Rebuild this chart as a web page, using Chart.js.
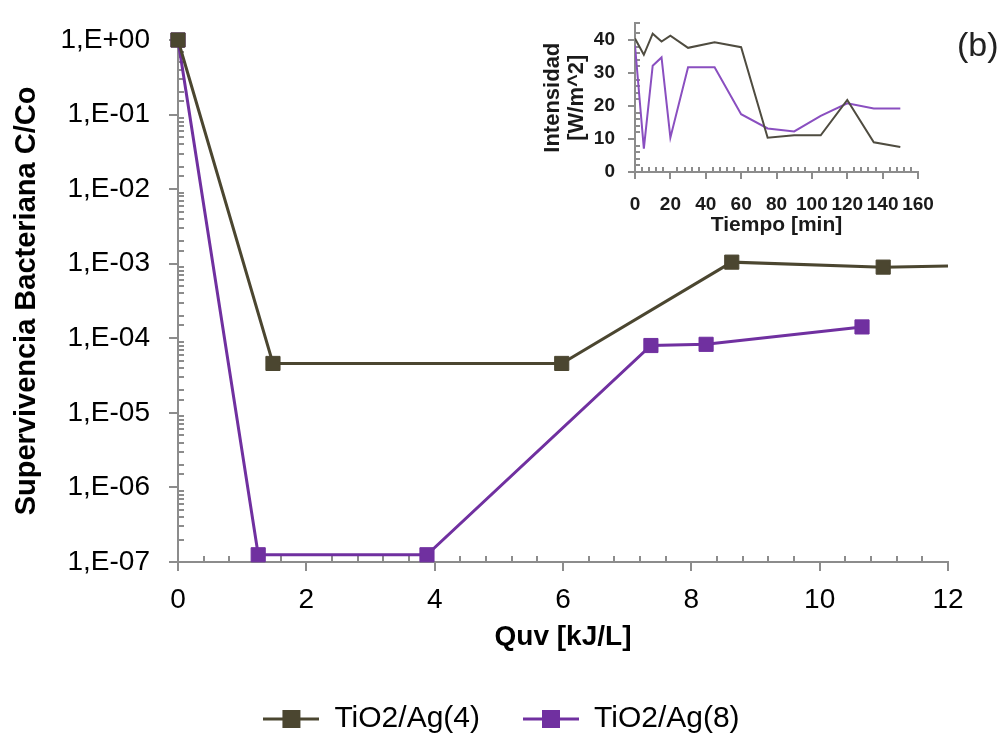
<!DOCTYPE html>
<html>
<head>
<meta charset="utf-8">
<script src="https://cdn.jsdelivr.net/npm/chart.js@4"></script>
<style>
  body { margin: 0; background: #fff; }
  #wrap { position: relative; width: 1003px; height: 736px; }
  #mainChart { position: absolute; left: 0; top: 0; }
  #insetChart { position: absolute; left: 530px; top: 0; pointer-events: none; }
  #tag { position: absolute; left: 957px; top: 25px; font: 34px 'Liberation Sans', Arial, sans-serif; color: #222; }
</style>
</head>
<body>
<div id="wrap">
  <canvas id="mainChart" width="1003" height="736"></canvas>
  <canvas id="insetChart" width="430" height="245"></canvas>
  <div id="tag">(b)</div>
</div>
<script>
// main chart: survival vs Quv (kJ/L), log scale
const quv4 = [0, 1.48, 5.98, 8.63, 10.99, 12]
const surv4 = [1, 4.6e-5, 4.6e-5, 1.05e-3, 9.0e-4, 9.3e-4]
const quv8 = [0, 1.25, 3.88, 7.37, 8.23, 10.66]
const surv8 = [1, 1.25e-7, 1.25e-7, 8.0e-5, 8.3e-5, 1.42e-4]

// inset: intensity (W/m^2) vs time (min)
const tiempo = [0, 5, 10, 15, 20, 30, 45, 60, 75, 90, 105, 120, 135, 150]
const int4 = [40.4, 35.5, 41.9, 39.5, 41.3, 37.6, 39.3, 37.8, 10.4, 11.1, 11.1, 21.8, 9.0, 7.6]
const int8 = [38.3, 7.1, 32.2, 34.7, 10.4, 31.7, 31.7, 17.5, 13.2, 12.3, 17.0, 20.8, 19.2, 19.2]

const labels = ['TiO2/Ag(4)', 'TiO2/Ag(8)']

const DARK = '#4b4630'
const PURPLE = '#7030a0'
const AXIS = '#8c8c8c'
const FONT = "'Liberation Sans', Arial, sans-serif"

Chart.defaults.font.family = FONT

function pts(xs, ys) {
  return xs.map((x, i) => ({ x: x, y: ys[i] }))
}

function near(v, step) {
  return Math.abs(v / step - Math.round(v / step)) < 1e-6
}

// legend icon: short line with a square in the middle
function legendIcon(color) {
  const c = document.createElement('canvas')
  c.width = 56
  c.height = 20
  const g = c.getContext('2d')
  g.strokeStyle = color
  g.lineWidth = 3
  g.beginPath()
  g.moveTo(0, 10)
  g.lineTo(56, 10)
  g.stroke()
  g.fillStyle = color
  g.fillRect(19, 1, 18, 18)
  return c
}

// major ticks point outward, minor ticks point inward (like the excel chart)
function tickMarks(majorX, majorY, big, small) {
  return {
    id: 'tickMarks',
    beforeDatasetsDraw(chart) {
      const ctx = chart.ctx
      const sx = chart.scales.x
      const sy = chart.scales.y
      const x0 = sx.left
      const y0 = sy.bottom
      ctx.save()
      ctx.strokeStyle = AXIS
      ctx.lineWidth = 2
      ctx.beginPath()
      sy.ticks.forEach(t => {
        const p = Math.round(sy.getPixelForValue(t.value))
        if (majorY(t.value)) { ctx.moveTo(x0 - big, p); ctx.lineTo(x0, p) }
        else { ctx.moveTo(x0, p); ctx.lineTo(x0 + small, p) }
      })
      sx.ticks.forEach(t => {
        const p = Math.round(sx.getPixelForValue(t.value))
        if (majorX(t.value)) { ctx.moveTo(p, y0); ctx.lineTo(p, y0 + big) }
        else { ctx.moveTo(p, y0); ctx.lineTo(p, y0 - small) }
      })
      ctx.stroke()
      ctx.restore()
    }
  }
}

// centre the legend on the whole canvas, not only on the padded area
const wideLegend = {
  id: 'wideLegend',
  afterLayout(chart) {
    const lg = chart.legend
    lg.left = 0
    lg.right = chart.width
    lg.width = chart.width
  }
}

const isDecade = v => near(Math.log10(v), 1)

function updateMain() {
  const ctx = document.getElementById('mainChart').getContext('2d')
  new Chart(ctx, {
    type: 'line',
    data: {
      datasets: [{
        label: labels[0],
        data: pts(quv4, surv4),
        borderColor: DARK,
        backgroundColor: DARK,
        borderWidth: 3,
        pointStyle: 'rect',
        pointRadius: [10, 10, 10, 10, 10, 0],
        pointBorderWidth: 1,
        clip: false
      }, {
        label: labels[1],
        data: pts(quv8, surv8),
        borderColor: PURPLE,
        backgroundColor: PURPLE,
        borderWidth: 3,
        pointStyle: 'rect',
        pointRadius: 10,
        pointBorderWidth: 1,
        clip: false
      }]
    },
    options: {
      responsive: false,
      animation: false,
      devicePixelRatio: 1,
      layout: { padding: { top: 40, right: 55, bottom: -8, left: 0 } },
      scales: {
        x: {
          type: 'linear',
          min: 0,
          max: 12,
          afterFit: s => { s.height = 99 },
          grid: { display: false },
          border: { display: true, color: AXIS, width: 2 },
          ticks: {
            stepSize: 0.4,
            autoSkip: false,
            maxRotation: 0,
            padding: 13,
            color: '#000',
            font: { size: 28 },
            callback: v => near(v, 2) ? String(Math.round(v)) : ''
          },
          title: {
            display: true,
            text: 'Quv [kJ/L]',
            color: '#000',
            font: { size: 28, weight: 'bold' },
            padding: { top: 0, bottom: 7 }
          }
        },
        y: {
          type: 'logarithmic',
          min: 1e-7,
          max: 1,
          afterFit: s => { s.width = 178 },
          grid: { display: false },
          border: { display: true, color: AXIS, width: 2 },
          ticks: {
            autoSkip: false,
            padding: 20,
            color: '#000',
            font: { size: 28 },
            callback: v => {
              if (!isDecade(v)) return ''
              const n = Math.round(Math.log10(v))
              return '1,E' + (n < 0 ? '-' : '+') + String(Math.abs(n)).padStart(2, '0')
            }
          },
          title: {
            display: true,
            text: 'Supervivencia Bacteriana C/Co',
            color: '#000',
            font: { size: 29, weight: 'bold' },
            padding: { top: 10, bottom: 0 }
          }
        }
      },
      plugins: {
        legend: {
          position: 'bottom',
          labels: {
            usePointStyle: true,
            pointStyleWidth: 56,
            padding: 43,
            color: '#000',
            font: { size: 30 },
            generateLabels: chart => chart.data.datasets.map((d, i) => ({
              text: d.label,
              pointStyle: legendIcon(d.borderColor),
              fillStyle: d.borderColor,
              strokeStyle: d.borderColor,
              lineWidth: 0,
              fontColor: '#000',
              hidden: false,
              datasetIndex: i
            }))
          }
        },
        tooltip: { enabled: false }
      }
    },
    plugins: [tickMarks(v => near(v, 2), isDecade, 9, 6), wideLegend]
  })
}

function updateInset() {
  const ctx = document.getElementById('insetChart').getContext('2d')
  new Chart(ctx, {
    type: 'line',
    data: {
      datasets: [{
        label: labels[0],
        data: pts(tiempo, int4),
        borderColor: '#4f4c40',
        borderWidth: 2,
        pointRadius: 0
      }, {
        label: labels[1],
        data: pts(tiempo, int8),
        borderColor: '#8a4fc0',
        borderWidth: 2,
        pointRadius: 0
      }]
    },
    options: {
      responsive: false,
      animation: false,
      devicePixelRatio: 1,
      layout: { padding: { top: 13, right: 42, bottom: 0, left: 0 } },
      scales: {
        x: {
          type: 'linear',
          min: 0,
          max: 160,
          afterFit: s => { s.height = 73 },
          grid: { display: false },
          border: { display: true, color: AXIS, width: 2 },
          ticks: {
            stepSize: 4,
            autoSkip: false,
            maxRotation: 0,
            padding: 13,
            color: '#1a1a1a',
            font: { size: 19, weight: 'bold' },
            callback: v => near(v, 20) ? String(Math.round(v)) : ''
          },
          title: {
            display: true,
            text: 'Tiempo [min]',
            color: '#1a1a1a',
            font: { size: 21, weight: 'bold' },
            padding: { top: 0, bottom: 7 }
          }
        },
        y: {
          min: 0,
          max: 45,
          afterFit: s => { s.width = 105 },
          grid: { display: false },
          border: { display: true, color: AXIS, width: 2 },
          ticks: {
            stepSize: 2,
            autoSkip: false,
            padding: 12,
            color: '#1a1a1a',
            font: { size: 19, weight: 'bold' },
            callback: v => near(v, 10) ? String(Math.round(v)) : ''
          },
          title: {
            display: true,
            text: ['Intensidad', '[W/m^2]'],
            color: '#1a1a1a',
            font: { size: 22, weight: 'bold', lineHeight: 1.1 },
            padding: { top: 11, bottom: 0 }
          }
        }
      },
      plugins: { legend: { display: false }, tooltip: { enabled: false } }
    },
    plugins: [tickMarks(v => near(v, 20), v => near(v, 10), 7, 5)]
  })
}

updateMain()
updateInset()
</script>
</body>
</html>
